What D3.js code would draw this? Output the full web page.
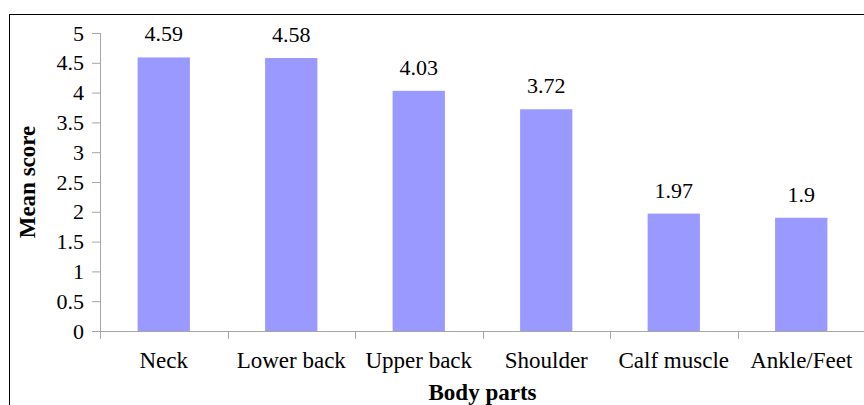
<!DOCTYPE html>
<html>
<head>
<meta charset="utf-8">
<script src="https://cdn.jsdelivr.net/npm/d3@7"></script>
<style>
  html, body { margin: 0; padding: 0; background: #fff; }
  svg { display: block; }
  svg text { font-family: "Liberation Serif", "Times New Roman", Times, serif !important; fill: #000; }
</style>
</head>
<body>
<svg id="chart" width="864" height="405"></svg>
<script>
// Mean discomfort score per body part
const categories = ["Neck", "Lower back", "Upper back", "Shoulder", "Calf muscle", "Ankle/Feet"];
const meanScores = [4.59, 4.58, 4.03, 3.72, 1.97, 1.9];
const yTicks = [0, 0.5, 1, 1.5, 2, 2.5, 3, 3.5, 4, 4.5, 5];

const serif = "'Liberation Serif', 'Times New Roman', Times, serif";
const svg = d3.select("#chart").attr("font-family", serif);
const plot = { left: 100, right: 865, top: 33, bottom: 331 };

// outer frame of the chart area
svg.append("rect")
  .attr("x", 9.5).attr("y", 14.5)
  .attr("width", 900).attr("height", 500)
  .attr("fill", "#fff").attr("stroke", "#000").attr("stroke-width", 1);

const x = d3.scaleBand().domain(categories).range([plot.left, plot.right]).padding(0);
const y = d3.scaleLinear().domain([0, 5]).range([plot.bottom, plot.top]);

const barFrac = 0.41;
const barW = x.bandwidth() * barFrac;

// bars
svg.append("g").selectAll("rect")
  .data(categories)
  .join("rect")
  .attr("x", (d) => x(d) + (x.bandwidth() - barW) / 2)
  .attr("y", (d, i) => y(meanScores[i]))
  .attr("width", barW)
  .attr("height", (d, i) => y(0) - y(meanScores[i]))
  .attr("fill", "#9999ff");

// value labels
svg.append("g").selectAll("text")
  .data(categories)
  .join("text")
  .attr("x", (d) => x(d) + x.bandwidth() / 2)
  .attr("y", (d, i) => y(meanScores[i]) - 16)
  .attr("text-anchor", "middle")
  .attr("font-family", serif)
  .attr("font-size", 22)
  .text((d, i) => String(meanScores[i]));

const axisColor = "#a6a6a6";

// y axis
const yAxis = svg.append("g")
  .attr("transform", `translate(${plot.left},0)`)
  .call(d3.axisLeft(y).tickValues(yTicks).tickSize(8).tickPadding(8).tickFormat(d3.format("~g")))
  .attr("font-family", serif);
yAxis.select(".domain").attr("stroke", axisColor).attr("d", `M0.5,${plot.top}V${plot.bottom}`);
yAxis.selectAll(".tick line").attr("stroke", axisColor);
yAxis.selectAll(".tick text").attr("font-size", 22).attr("font-family", serif).attr("fill", "#000");

// x axis: baseline with ticks between categories
const xg = svg.append("g").attr("transform", `translate(0,${plot.bottom})`);
xg.append("line")
  .attr("x1", plot.left).attr("x2", plot.right)
  .attr("y1", 0.5).attr("y2", 0.5)
  .attr("stroke", axisColor);
const boundaries = categories.map((d) => x(d)).concat([plot.right]);
xg.selectAll("line.tick")
  .data(boundaries)
  .join("line")
  .attr("class", "tick")
  .attr("x1", (d) => Math.round(d) + 0.5).attr("x2", (d) => Math.round(d) + 0.5)
  .attr("y1", 0).attr("y2", 8)
  .attr("stroke", axisColor);
xg.selectAll("text")
  .data(categories)
  .join("text")
  .attr("x", (d) => x(d) + x.bandwidth() / 2)
  .attr("y", 37)
  .attr("text-anchor", "middle")
  .attr("font-family", serif)
  .attr("font-size", 23)
  .text((d) => d);

// axis titles
svg.append("text")
  .attr("x", (plot.left + plot.right) / 2)
  .attr("y", 400)
  .attr("text-anchor", "middle")
  .attr("font-family", serif)
  .attr("font-size", 23)
  .attr("font-weight", "bold")
  .text("Body parts");

svg.append("text")
  .attr("transform", `translate(35,${(plot.top + plot.bottom) / 2}) rotate(-90)`)
  .attr("text-anchor", "middle")
  .attr("font-family", serif)
  .attr("font-size", 23)
  .attr("font-weight", "bold")
  .text("Mean score");
</script>
</body>
</html>
